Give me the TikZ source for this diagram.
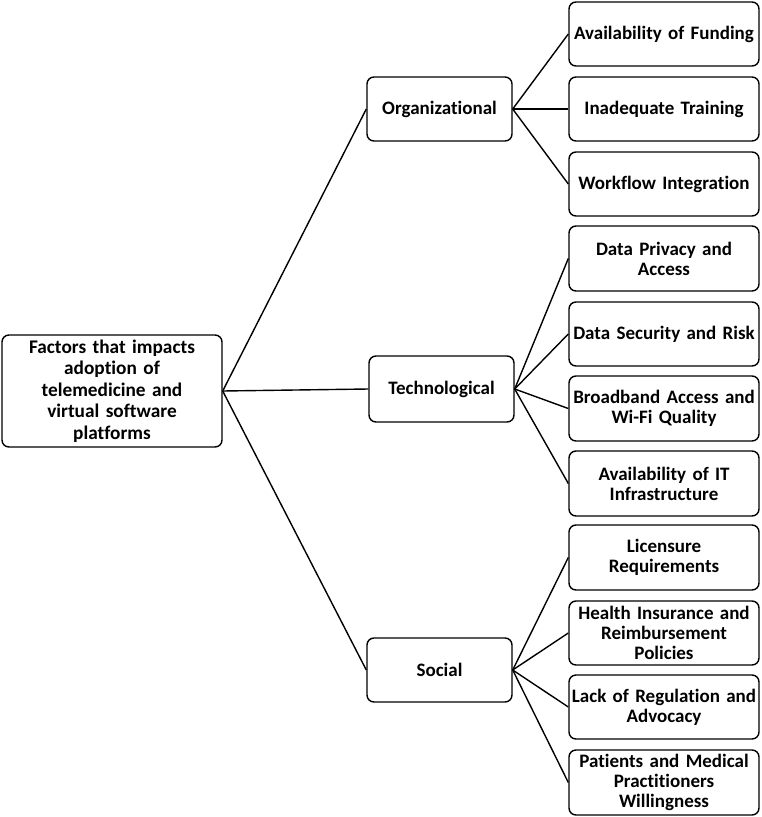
\documentclass[tikz,border=0pt]{standalone}
\usepackage{fontspec}
\setmainfont[Ligatures={NoCommon}]{Carlito}
\begin{document}
\begin{tikzpicture}[x=1pt,y=-1pt,
  box/.style={draw=black, line width=1.4pt, rounded corners=7pt, align=center, inner sep=1pt,
    font=\bfseries\fontsize{19}{20}\selectfont},
  rootbox/.style={box, minimum width=220pt, minimum height=112pt, text width=214pt,
    font=\bfseries\fontsize{19.3}{21.5}\selectfont},
  midbox/.style={box, minimum width=145pt, minimum height=64pt},
  leafbox/.style={box, minimum width=190pt, minimum height=64pt, text width=188pt},
  link/.style={line width=1.4pt}]
\useasboundingbox (0,0) rectangle (762,817);
\node[rootbox] (root) at (112,391) {Factors that impacts\\adoption of\\telemedicine and\\virtual software\\platforms};
\node[midbox] (org) at (439.5,109) {Organizational};
\node[midbox, minimum height=66pt] (tech) at (441.5,389) {Technological};
\node[midbox] (soc) at (439.5,670) {Social};
\node[leafbox] (f1) at (664,34) {Availability of Funding};
\node[leafbox] (f2) at (664,109) {Inadequate Training};
\node[leafbox] (f3) at (664,184) {Workflow Integration};
\node[leafbox, minimum height=65pt] (t1) at (664,258.5) {Data Privacy and\\Access};
\node[leafbox] (t2) at (664,334) {Data Security and Risk};
\node[leafbox, minimum height=65pt] (t3) at (664,408.5) {Broadband Access and\\Wi-Fi Quality};
\node[leafbox, minimum height=65pt] (t4) at (664,483.5) {Availability of IT\\Infrastructure};
\node[leafbox, minimum height=65pt] (s1) at (664,557.5) {Licensure\\Requirements};
\node[leafbox] (s2) at (664,633) {Health Insurance and\\Reimbursement\\Policies};
\node[leafbox] (s3) at (664,707) {Lack of Regulation and\\Advocacy};
\node[leafbox, minimum height=65pt] (s4) at (664,782.5) {Patients and Medical\\Practitioners\\Willingness};
\foreach \m in {org,tech,soc} \draw[link] (root.east) -- (\m.west);
\foreach \c in {f1,f2,f3} \draw[link] (org.east) -- (\c.west);
\foreach \c in {t1,t2,t3,t4} \draw[link] (tech.east) -- (\c.west);
\foreach \c in {s1,s2,s3,s4} \draw[link] (soc.east) -- (\c.west);
\end{tikzpicture}
\end{document}
